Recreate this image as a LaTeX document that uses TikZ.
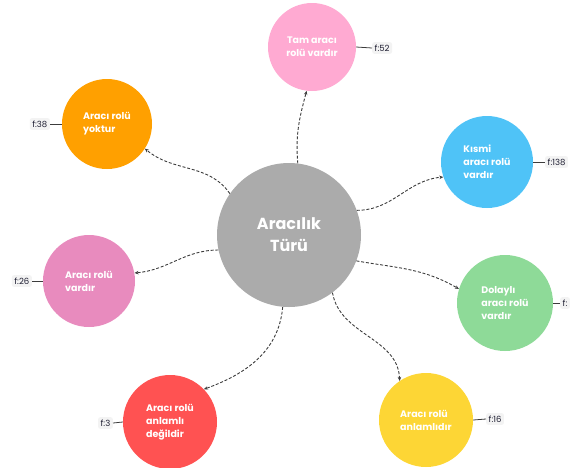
\documentclass[tikz,border=0pt]{standalone}
\usepackage{fontspec}
\setmainfont{Poppins}
\usepackage{tikz}
\usetikzlibrary{arrows.meta, positioning}
\definecolor{centergray}{RGB}{171, 171, 171}
\definecolor{lightpink}{RGB}{255, 170, 210}
\definecolor{deeporange}{RGB}{255, 160, 0}
\definecolor{skyblue}{RGB}{79, 195, 247}
\definecolor{rosepink}{RGB}{232, 139, 190}
\definecolor{mintgreen}{RGB}{142, 218, 152}
\definecolor{coralred}{RGB}{255, 82, 82}
\definecolor{sunyellow}{RGB}{253, 214, 53}
\definecolor{darkline}{RGB}{60, 60, 60}
\definecolor{taggray}{RGB}{243, 243, 243}
\definecolor{tagtext}{RGB}{30, 30, 50}

\begin{document}
\begin{tikzpicture}[
    x=1pt, y=-1pt,
    topic/.style={circle, fill=centergray, minimum size=144pt, inner sep=0pt,
                  text=white, align=center,
                  font=\fontsize{16}{22}\selectfont\bfseries},
    bubble/.style={circle, minimum size=92pt, inner sep=0pt,
                   text=white, align=left,
                   font=\fontsize{9.5}{13}\selectfont\bfseries},
    link/.style={-{Stealth[length=4pt, width=3.5pt]}, draw=darkline,
                 line width=0.9pt, dash pattern=on 3pt off 1.8pt},
    tag/.style={rectangle, rounded corners=2pt, fill=taggray, text=tagtext,
                inner sep=2.5pt, font=\fontsize{8.5}{9}\selectfont},
    tagline/.style={draw=darkline, line width=0.8pt}
]
\useasboundingbox (0,0) rectangle (570,467);

%% Center topic
\node[topic] (turu) at (289,235) {Aracılık\\Türü};

%% Outer bubbles
\node[bubble, fill=lightpink, minimum size=88pt, align=center] (tam) at (312,47) {Tam aracı\\rolü vardır};
\node[bubble, fill=deeporange, minimum size=90pt] (yok) at (107,124) {Aracı rolü\\yoktur};
\node[bubble, fill=skyblue] (kismi) at (487,162) {Kısmi\\aracı rolü\\vardır};
\node[bubble, fill=rosepink] (var) at (89,281) {Aracı rolü\\vardır};
\node[bubble, fill=mintgreen, minimum size=96pt] (dolayli) at (505,303) {Dolaylı\\aracı rolü\\vardır};
\node[bubble, fill=coralred, minimum size=94pt] (degil) at (170,422) {Aracı rolü\\anlamlı\\değildir};
\node[bubble, fill=sunyellow, minimum size=94pt] (anlamli) at (426,420) {Aracı rolü\\anlamlıdır};

%% Dashed links
\draw[link] (turu.83)  to[out=95,  in=-105] (tam.-97);
\draw[link] (turu.145) to[out=125, in=-40]  (yok.-33);
\draw[link] (turu.20)  to[out=0,   in=185]  (kismi.199);
\draw[link] (turu.192) to[out=180, in=5]    (var.10);
\draw[link] (turu.-21) to[out=-10, in=150]  (dolayli.163);
\draw[link] (turu.-95) to[out=-95, in=20]   (degil.44);
\draw[link] (turu.-53) to[out=-80, in=92]   (anlamli.124);

%% Frequency tags
\node[tag, anchor=west] (f52)  at (372,48)  {f:52};
\node[tag, anchor=east] (f38)  at (50,124)  {f:38};
\node[tag, anchor=west] (f138) at (545,162) {f:138};
\node[tag, anchor=east] (f26)  at (32,281)  {f:26};
\node[tag, anchor=west] (fd)   at (560,303) {f:};
\node[tag, anchor=east] (f3)   at (113,423) {f:3};
\node[tag, anchor=west] (f16)  at (486,419) {f:16};

\draw[tagline] (tam.east)     -- (f52.west);
\draw[tagline] (yok.west)     -- (f38.east);
\draw[tagline] (kismi.east)   -- (f138.west);
\draw[tagline] (var.west)     -- (f26.east);
\draw[tagline] (dolayli.east) -- (fd.west);
\draw[tagline] (degil.west)   -- (f3.east);
\draw[tagline] (anlamli.east) -- (f16.west);

\end{tikzpicture}
\end{document}
